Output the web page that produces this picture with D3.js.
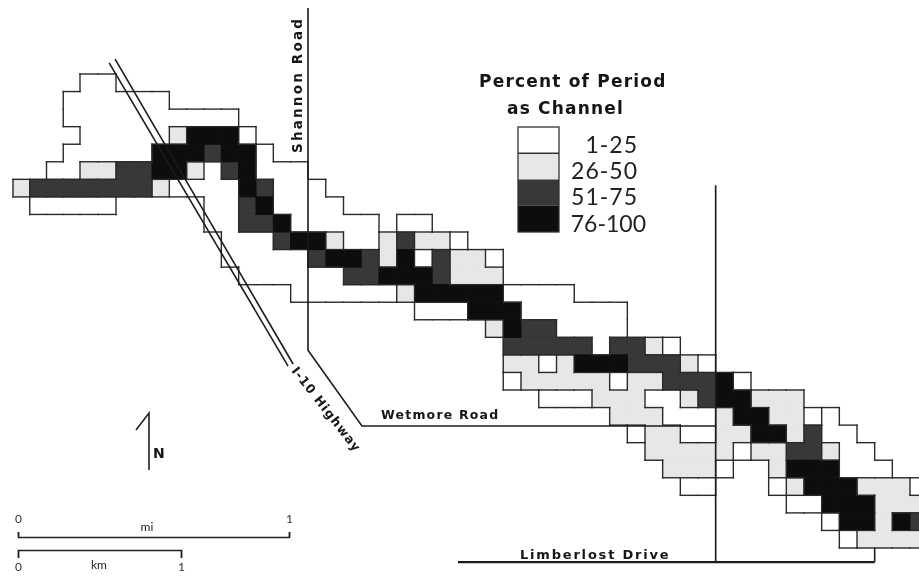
<!DOCTYPE html>
<html>
<head>
<meta charset="utf-8">
<script src="https://cdn.jsdelivr.net/npm/d3@7"></script>
<style>
  html, body { margin: 0; padding: 0; background: #fff; }
  svg { display: block; }
  .bold { font-family: "DejaVu Sans", sans-serif; font-weight: 700; fill: #151515; }
  .light { font-family: Lato, sans-serif; fill: #222; }
  .domain, .tick line { stroke: #222; stroke-width: 1.5; }
  .tick text { font-family: Lato, sans-serif; font-size: 12px; fill: #333; }
</style>
</head>
<body>
<div id="chart"></div>
<script>
// channel occupancy grid: one string per row, 1-4 = class, '.' = nothing
const rowStart = [4, 3, 3, 4, 3, 2, 0, 1, 11, 12, 12, 13, 16, 23, 27, 28, 28, 28, 30, 34, 35, 36, 37, 38, 44, 46, 47];
const rowLevels = [
  '11',
  '111111',
  '1111111111',
  '1111124441',
  '111114443441',
  '112233442134111',
  '233333332111143111',
  '11111.....11341111',
  '1133411111.11',
  '11134421123221',
  '1111134432413221',
  '111111334443222',
  '1111112444441111',
  '111444111111',
  '24331111',
  '3333313321',
  '221244433321',
  '12222212233341',
  '111222112344222',
  '2221112442211',
  '1221122442311',
  '2222212233211',
  '2221..2444111',
  '11...124442221',
  '11444222',
  '144243',
  '12222'
];

const legendLabels = ['1-25', '26-50', '51-75', '76-100'];
const levels = [1, 2, 3, 4];
const levelColors = ['#ffffff', '#e7e7e7', '#383838', '#0b0b0b'];

// roads in grid units [col, row]
const shannonRoad = [[17, -3.76], [17, 15.73], [20.04, 20.05], [40, 20.05]];
const eastRoad = [[40, 6.33], [40, 27.8]];
const limberlost = [[25.45, 27.8], [49, 27.8]];
const limberlostStub = [[49, 27], [49, 27.8]];
const highwayA = [[5.62, -0.63], [15.85, 16.64]];
const highwayB = [[5.95, -0.85], [16.14, 16.52]];
const whiteSeam = [[46, 19], [46, 20]];

const width = 919, height = 577;

const xScale = d3.scaleLinear()
  .domain([0, 4, 8, 17, 33, 51])
  .range([13, 80, 152, 308, 592, 910]);
const yScale = d3.scaleLinear()
  .domain([0, 27])
  .range([74, 548]);
const color = d3.scaleOrdinal().domain(levels).range(levelColors);

const svg = d3.select('#chart').append('svg')
  .attr('width', width)
  .attr('height', height);

svg.append('defs').append('filter')
  .attr('id', 'scan')
  .append('feGaussianBlur')
  .attr('stdDeviation', 0.5);

const page = svg.append('g').attr('filter', 'url(#scan)');

// flatten rows into cells
const cells = [];
const levelAt = new Map();
rowLevels.forEach((str, row) => {
  str.split('').forEach((ch, i) => {
    if (ch === '.') return;
    const col = rowStart[row] + i;
    cells.push({ col, row, level: +ch });
    levelAt.set(col + ',' + row, +ch);
  });
});

// lighter classes first so the overlap of the darker cells wins
page.append('g').selectAll('rect')
  .data(d3.sort(cells, d => d.level))
  .join('rect')
  .attr('x', d => xScale(d.col))
  .attr('y', d => yScale(d.row))
  .attr('width', d => xScale(d.col + 1) - xScale(d.col))
  .attr('height', d => yScale(d.row + 1) - yScale(d.row))
  .attr('fill', d => color(d.level))
  .attr('stroke', d => color(d.level))
  .attr('stroke-width', 1);

// outlines only where the class changes, no line between the two dark classes
const edges = [whiteSeam];
const differs = (a, b) => a !== b && !(a >= 3 && b >= 3);
cells.forEach(c => {
  const get = (col, row) => levelAt.get(col + ',' + row) || 0;
  if (differs(c.level, get(c.col + 1, c.row))) edges.push([[c.col + 1, c.row], [c.col + 1, c.row + 1]]);
  if (differs(c.level, get(c.col, c.row + 1))) edges.push([[c.col, c.row + 1], [c.col + 1, c.row + 1]]);
  if (!get(c.col - 1, c.row)) edges.push([[c.col, c.row], [c.col, c.row + 1]]);
  if (!get(c.col, c.row - 1)) edges.push([[c.col, c.row], [c.col + 1, c.row]]);
});

page.append('g').selectAll('line')
  .data(edges)
  .join('line')
  .attr('x1', d => xScale(d[0][0]))
  .attr('y1', d => yScale(d[0][1]))
  .attr('x2', d => xScale(d[1][0]))
  .attr('y2', d => yScale(d[1][1]))
  .attr('stroke', '#2a2a2a')
  .attr('stroke-width', 1.4)
  .attr('stroke-linecap', 'square');

const roadLine = d3.line().x(d => xScale(d[0])).y(d => yScale(d[1]));

page.append('g').selectAll('path')
  .data([shannonRoad, eastRoad, limberlost, limberlostStub, highwayA, highwayB])
  .join('path')
  .attr('d', roadLine)
  .attr('fill', 'none')
  .attr('stroke', '#1c1c1c')
  .attr('stroke-width', (d, i) => i === 2 ? 2.2 : 1.6);

// road names
const boldLabel = (txt, size, spacing, transform) => page.append('text')
  .attr('class', 'bold')
  .attr('font-size', size)
  .attr('letter-spacing', spacing)
  .attr('transform', transform)
  .text(txt);

boldLabel('Shannon Road', 13.5, 2.2, 'translate(302,153) rotate(-90)');
boldLabel('I-10 Highway', 12.5, 1, 'translate(291,371) rotate(52)');
boldLabel('Wetmore Road', 12.5, 1.2, 'translate(381,419)');
boldLabel('Limberlost Drive', 13, 1.8, 'translate(520,559)');

// legend
const legendY = d3.scaleBand().domain(levels).range([127, 232]);
const legend = page.append('g');
legend.selectAll('rect')
  .data(levels)
  .join('rect')
  .attr('x', 518)
  .attr('y', d => legendY(d))
  .attr('width', 41)
  .attr('height', legendY.bandwidth())
  .attr('fill', d => color(d));
legend.append('rect')
  .attr('x', 518).attr('y', 127)
  .attr('width', 41).attr('height', 105)
  .attr('fill', 'none').attr('stroke', '#333').attr('stroke-width', 1.3);
legend.append('line')
  .attr('x1', 518).attr('x2', 559)
  .attr('y1', legendY(2)).attr('y2', legendY(2))
  .attr('stroke', '#333').attr('stroke-width', 1.3);

boldLabel('Percent of Period', 17, 1.2, 'translate(479,87)');
boldLabel('as Channel', 17, 1.2, 'translate(507,114)');

legend.selectAll('text')
  .data(legendLabels)
  .join('text')
  .attr('class', 'light')
  .attr('font-size', 23)
  .attr('letter-spacing', (d, i) => i === 3 ? 0 : 1)
  .attr('x', (d, i) => [638, 638, 638, 646][i])
  .attr('y', (d, i) => [153, 179, 205, 232][i])
  .attr('text-anchor', 'end')
  .text(d => d);

// north arrow
page.append('path')
  .attr('d', 'M136,430 L149,413 L149,470')
  .attr('fill', 'none').attr('stroke', '#222').attr('stroke-width', 1.6);
boldLabel('N', 14, 0, 'translate(153,458)');

// scale bars
const miScale = d3.scaleLinear().domain([0, 1]).range([18, 289]);
const kmScale = d3.scaleLinear().domain([0, 1]).range([18, 181]);

page.append('g')
  .attr('transform', 'translate(0,537)')
  .call(d3.axisTop(miScale).tickValues([0, 1]).tickFormat(d3.format('d')).tickSize(5).tickPadding(9));
page.append('g')
  .attr('transform', 'translate(0,550)')
  .call(d3.axisBottom(kmScale).tickValues([0, 1]).tickFormat(d3.format('d')).tickSize(8).tickPadding(4));

page.append('text').attr('class', 'light').attr('font-size', 12)
  .attr('x', 147).attr('y', 531).attr('text-anchor', 'middle').text('mi');
page.append('text').attr('class', 'light').attr('font-size', 12)
  .attr('x', 99).attr('y', 569).attr('text-anchor', 'middle').text('km');
</script>
</body>
</html>
